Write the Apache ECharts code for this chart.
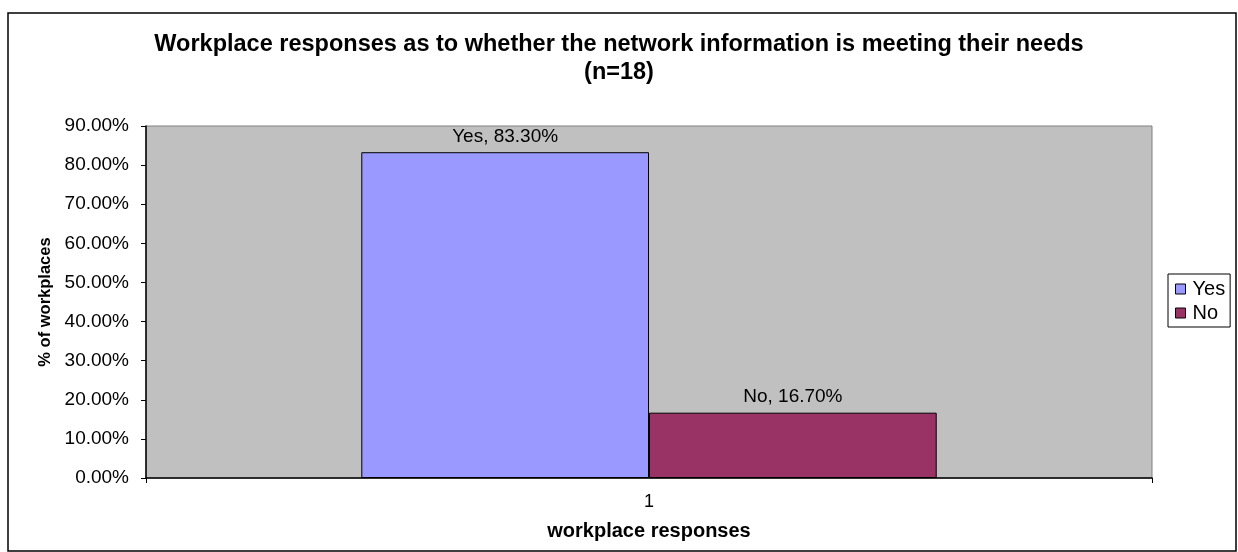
<!DOCTYPE html>
<html>
<head>
<meta charset="utf-8">
<script src="https://cdn.jsdelivr.net/npm/echarts@6/dist/echarts.min.js"></script>
<style>
  html, body { margin: 0; padding: 0; background: #fff; }
  #chart { width: 1238px; height: 552px; }
</style>
</head>
<body>
<div id="chart"></div>
<script>
var categories = ['1'];
var seriesNames = ['Yes', 'No'];
var seriesValues = [0.833, 0.167];
var seriesColors = ['#9999FF', '#993366'];
var yTicks = { min: 0, max: 0.9, interval: 0.1 };
var titleLines = [
    'Workplace responses as to whether the network information is meeting their needs',
    '(n=18)'
];

var font = '"Liberation Sans", Arial, sans-serif';

function pct(v) {
    return (v * 100).toFixed(2) + '%';
}

var series = seriesNames.map(function (name, i) {
    return {
        name: name,
        type: 'bar',
        data: [seriesValues[i]],
        barGap: '0%',
        barCategoryGap: '42.8%',
        itemStyle: {
            color: seriesColors[i],
            borderColor: '#000',
            borderWidth: 1
        },
        label: {
            show: true,
            position: 'top',
            distance: 6,
            color: '#000',
            fontFamily: font,
            fontSize: 19,
            formatter: function (p) {
                return p.seriesName + ', ' + pct(p.value);
            }
        },
        emphasis: { disabled: true }
    };
});

var option = {
    animation: false,
    textStyle: { fontFamily: font },
    title: titleLines.map(function (t, i) {
        return {
            text: t,
            left: 'center',
            top: 33 + i * 28,
            padding: 0,
            textStyle: {
                fontFamily: font,
                fontSize: 23.5,
                fontWeight: 'bold',
                color: '#000'
            }
        };
    }),
    legend: {
        data: seriesNames,
        orient: 'vertical',
        left: 1168,
        top: 274,
        padding: [5, 5, 4, 7],
        itemGap: 4,
        itemWidth: 10,
        itemHeight: 10,
        borderColor: '#000',
        borderWidth: 1,
        icon: 'rect',
        itemStyle: { borderColor: '#000', borderWidth: 1 },
        textStyle: { fontFamily: font, fontSize: 20, color: '#000', padding: [0, 0, 0, 2] }
    },
    grid: {
        left: 146,
        right: 86,
        top: 126,
        bottom: 74,
        show: true,
        backgroundColor: '#C0C0C0',
        borderColor: '#808080',
        borderWidth: 1
    },
    xAxis: {
        type: 'category',
        data: categories,
        name: 'workplace responses',
        nameLocation: 'middle',
        nameGap: 43,
        nameTextStyle: { fontFamily: font, fontSize: 20, fontWeight: 'bold', color: '#000' },
        axisLine: { lineStyle: { color: '#000', width: 1.5 } },
        axisTick: { show: true, length: 5, lineStyle: { color: '#000' } },
        axisLabel: { color: '#000', fontFamily: font, fontSize: 18, margin: 15 },
        splitLine: { show: false }
    },
    yAxis: {
        type: 'value',
        min: yTicks.min,
        max: yTicks.max,
        interval: yTicks.interval,
        name: '% of workplaces',
        nameLocation: 'middle',
        nameRotate: 90,
        nameGap: 92,
        nameTextStyle: { fontFamily: font, fontSize: 16.5, fontWeight: 'bold', color: '#000' },
        axisLine: { show: true, lineStyle: { color: '#000', width: 1.5 } },
        axisTick: { show: true, inside: false, length: 5, lineStyle: { color: '#000' } },
        axisLabel: {
            color: '#000',
            fontFamily: font,
            fontSize: 19,
            margin: 17,
            formatter: pct
        },
        splitLine: { show: false }
    },
    graphic: [{
        type: 'rect',
        shape: { x: 8, y: 13, width: 1228, height: 538 },
        style: { fill: 'none', stroke: '#000', lineWidth: 1.5 },
        silent: true,
        z: -1
    }],
    series: series
};

var chart = echarts.init(document.getElementById('chart'));
chart.setOption(option);
</script>
</body>
</html>
